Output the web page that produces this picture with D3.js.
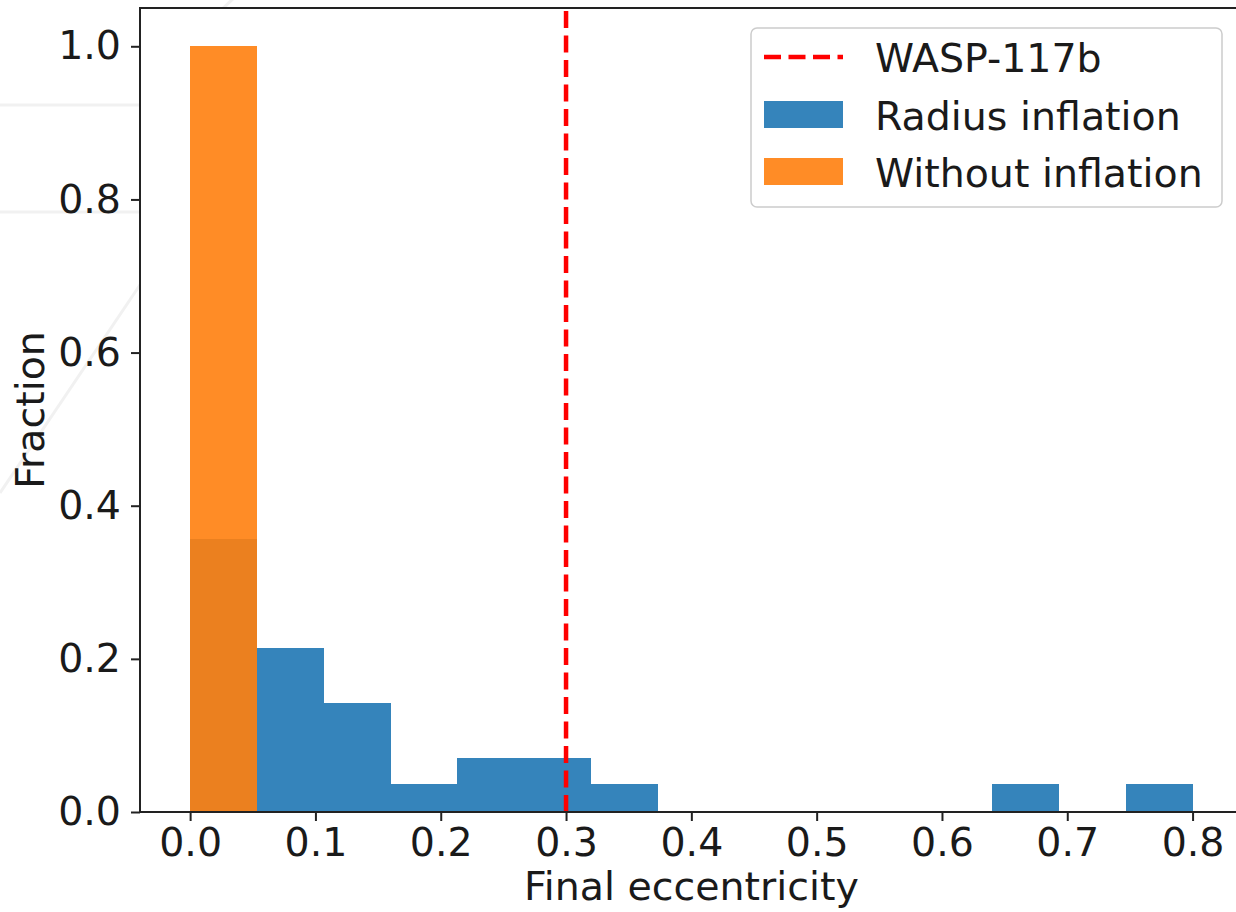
<!DOCTYPE html>
<html>
<head>
<meta charset="utf-8">
<script src="https://cdn.jsdelivr.net/npm/d3@7/dist/d3.min.js"></script>
<style>
  html, body { margin: 0; padding: 0; background: #fff; }
  svg { display: block; font-family: "DejaVu Sans", sans-serif; }
</style>
</head>
<body>
<svg id="chart" width="1236" height="912"></svg>
<script>
// Histogram bin edges (final eccentricity), 15 equal bins on [0, 0.8]
const binEdges = [0, 0.0533, 0.1067, 0.16, 0.2133, 0.2667, 0.32, 0.3733,
                  0.4267, 0.48, 0.5333, 0.5867, 0.64, 0.6933, 0.7467, 0.8];
// Fraction of systems per bin
const radiusInflation  = [0.357, 0.214, 0.143, 0.036, 0.071, 0.071, 0.036,
                          0, 0, 0, 0, 0, 0.036, 0, 0.036];
const withoutInflation = [1.0, 0, 0, 0, 0, 0, 0, 0, 0, 0, 0, 0, 0, 0, 0];
// Observed eccentricity of WASP-117b
const waspEcc = 0.3;

const xTicks = [0.0, 0.1, 0.2, 0.3, 0.4, 0.5, 0.6, 0.7, 0.8];
const yTicks = [0.0, 0.2, 0.4, 0.6, 0.8, 1.0];

const legendLabels = ["WASP-117b", "Radius inflation", "Without inflation"];

const FS = 39.5;
const svg = d3.select("#chart");

const plot = { left: 140, top: 8, right: 1242.7, bottom: 812 };

const x = d3.scaleLinear().domain([-0.04, 0.84]).range([plot.left, plot.right]);
const y = d3.scaleLinear().domain([0, 1.05]).range([plot.bottom, plot.top]);

// faint background marks behind the axes area
const bg = svg.append("g").attr("stroke", "#f1f1f1").attr("stroke-width", 3).attr("fill", "none");
bg.append("line").attr("x1", 0).attr("y1", 105).attr("x2", 150).attr("y2", 105);
bg.append("line").attr("x1", 0).attr("y1", 212).attr("x2", 150).attr("y2", 212);
bg.append("line").attr("x1", 0).attr("y1", 493).attr("x2", 150).attr("y2", 270);
bg.append("line").attr("x1", 200).attr("y1", 30).attr("x2", 236).attr("y2", -4);

// axes background
svg.append("rect")
  .attr("x", plot.left).attr("y", plot.top)
  .attr("width", plot.right - plot.left).attr("height", plot.bottom - plot.top)
  .attr("fill", "#fff");

function drawHist(values, color) {
  const bins = values.map((v, i) => ({ x0: binEdges[i], x1: binEdges[i + 1], v }))
                     .filter(d => d.v > 0);
  svg.append("g").attr("shape-rendering", "crispEdges")
    .selectAll("rect").data(bins).join("rect")
    .attr("x", d => x(d.x0))
    .attr("width", d => x(d.x1) - x(d.x0))
    .attr("y", d => y(d.v))
    .attr("height", d => y(0) - y(d.v))
    .attr("fill", color)
    .attr("fill-opacity", 0.9);
}

drawHist(radiusInflation, "#1f77b4");
drawHist(withoutInflation, "#ff7f0e");

// vertical reference line
svg.append("line")
  .attr("x1", x(waspEcc)).attr("x2", x(waspEcc))
  .attr("y1", plot.bottom).attr("y2", plot.top)
  .attr("stroke", "#ff0000").attr("stroke-width", 4.5)
  .attr("stroke-dasharray", "17,7.5");

// axes
const xAxis = d3.axisBottom(x).tickValues(xTicks).tickFormat(d3.format(".1f"))
  .tickSize(9).tickPadding(7);
const yAxis = d3.axisLeft(y).tickValues(yTicks).tickFormat(d3.format(".1f"))
  .tickSize(9).tickPadding(10);

const gx = svg.append("g").attr("transform", `translate(0,${plot.bottom})`).call(xAxis);
const gy = svg.append("g").attr("transform", `translate(${plot.left},0)`).call(yAxis);

[gx, gy].forEach(g => {
  g.select(".domain").remove();
  g.selectAll(".tick line").attr("stroke", "#222").attr("stroke-width", 2);
  g.selectAll(".tick text").attr("fill", "#1a1a1a")
    .style("font-size", FS + "px").style("font-family", "DejaVu Sans");
});

// spines
const spines = svg.append("g").attr("stroke", "#222").attr("stroke-width", 2).attr("fill", "none");
spines.append("line").attr("x1", plot.left).attr("x2", plot.left).attr("y1", plot.top - 1).attr("y2", plot.bottom + 1);
spines.append("line").attr("x1", plot.left - 1).attr("x2", plot.right).attr("y1", plot.bottom).attr("y2", plot.bottom);
spines.append("line").attr("x1", plot.left - 1).attr("x2", plot.right).attr("y1", plot.top).attr("y2", plot.top);
spines.append("line").attr("x1", plot.right).attr("x2", plot.right).attr("y1", plot.top).attr("y2", plot.bottom);

// axis labels
svg.append("text")
  .attr("x", (plot.left + plot.right) / 2).attr("y", 900)
  .attr("text-anchor", "middle").attr("fill", "#1a1a1a")
  .style("font-size", FS + "px")
  .text("Final eccentricity");

svg.append("text")
  .attr("transform", `translate(44,${(plot.top + plot.bottom) / 2}) rotate(-90)`)
  .attr("text-anchor", "middle").attr("fill", "#1a1a1a")
  .style("font-size", FS + "px")
  .text("Fraction");

// legend
const lg = svg.append("g");
lg.append("rect")
  .attr("x", 751).attr("y", 28).attr("width", 471).attr("height", 179)
  .attr("rx", 6).attr("ry", 6)
  .attr("fill", "#fff").attr("fill-opacity", 0.8)
  .attr("stroke", "#cccccc").attr("stroke-width", 1.5);

const rowY = [57, 114.5, 171.5];
lg.append("line")
  .attr("x1", 764).attr("x2", 843).attr("y1", rowY[0]).attr("y2", rowY[0])
  .attr("stroke", "#ff0000").attr("stroke-width", 4.5)
  .attr("stroke-dasharray", "17,7.5");
lg.append("rect")
  .attr("x", 764).attr("y", rowY[1] - 13.5).attr("width", 79).attr("height", 27)
  .attr("fill", "#1f77b4").attr("fill-opacity", 0.9);
lg.append("rect")
  .attr("x", 764).attr("y", rowY[2] - 13.5).attr("width", 79).attr("height", 27)
  .attr("fill", "#ff7f0e").attr("fill-opacity", 0.9);

lg.selectAll("text.lab").data(legendLabels).join("text")
  .attr("class", "lab")
  .attr("x", 875)
  .attr("y", (d, i) => rowY[i] + 15)
  .attr("fill", "#1a1a1a")
  .style("font-size", FS + "px")
  .text(d => d);
</script>
</body>
</html>
